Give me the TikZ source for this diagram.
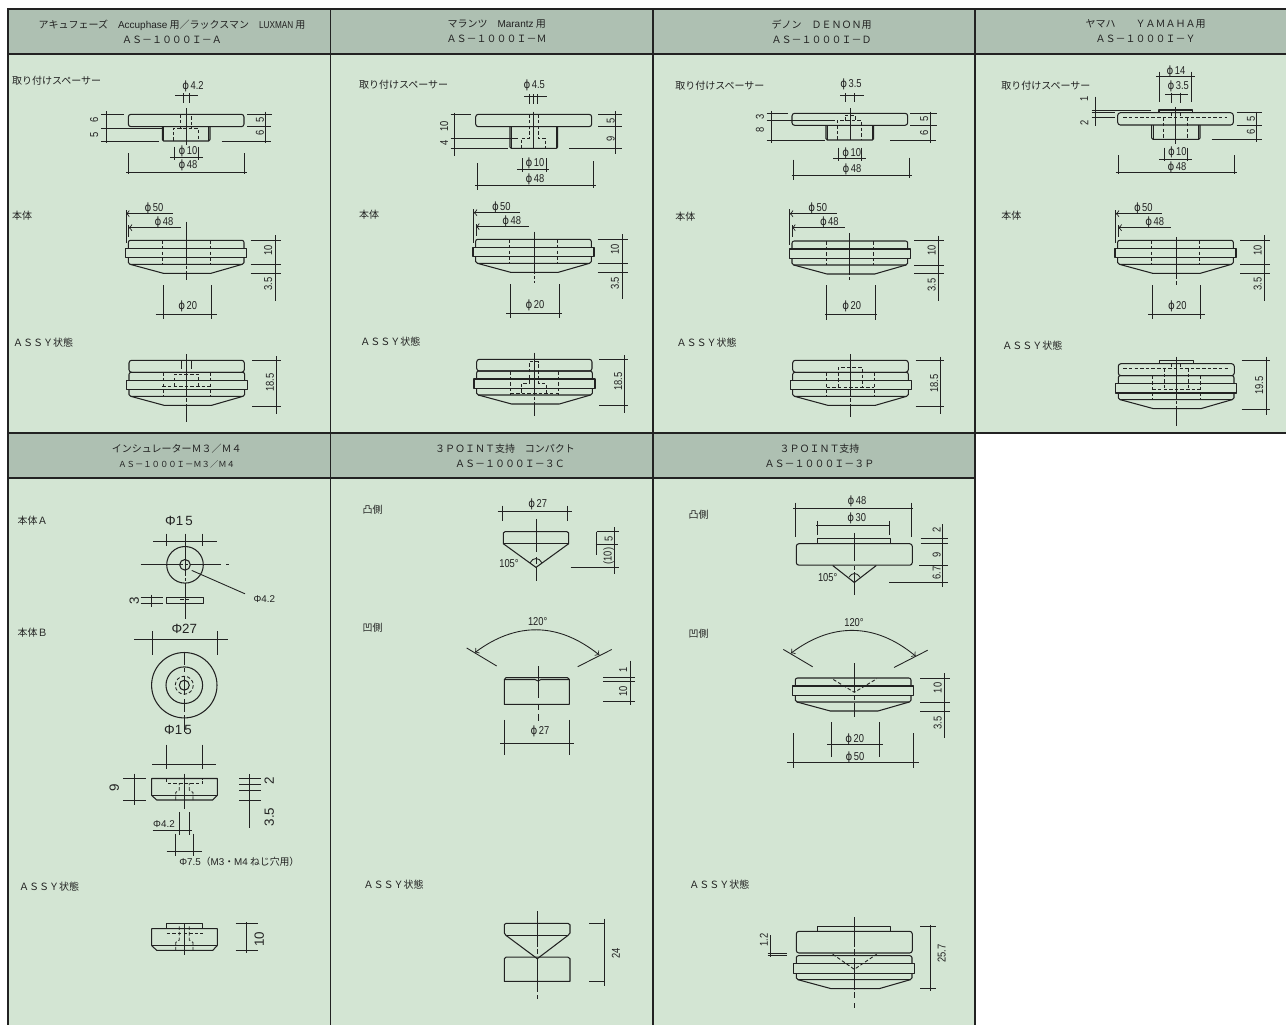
\documentclass[tikz,border=0pt]{standalone}
\usepackage{fontspec}
\setmainfont{Noto Sans CJK JP}
\newfontfamily\dimfont[FakeStretch=0.82]{Liberation Sans}
\newfontfamily\phifont[FakeStretch=0.9]{DejaVu Sans}
\newfontfamily\openfont{Liberation Sans}
\definecolor{headfill}{HTML}{AEC0B2}
\definecolor{bodyfill}{HTML}{D3E5D3}
\definecolor{ink}{HTML}{222222}
\newcommand{\phid}{{\phifont ϕ}\hspace{0.8pt}}
\tikzset{
  frame/.style={draw=ink, line width=0.9pt},
  part/.style={draw=ink, line width=0.6pt, line join=round},
  dimline/.style={draw=ink, line width=0.5pt},
  hid/.style={draw=ink, line width=0.5pt, dash pattern=on 2pt off 1.2pt},
  centre/.style={draw=ink, line width=0.5pt, dash pattern=on 24pt off 1pt on 2pt off 1pt},
  headtext/.style={align=center, text=ink, inner sep=0pt, font=\fontsize{5.69}{8.5}\selectfont},
  tagtext/.style={anchor=west, text=ink, inner sep=0pt, font=\fontsize{5.69}{7}\selectfont},
  dimtext/.style={text=ink, inner sep=0pt, font=\dimfont\fontsize{6.5}{7}\selectfont},
  dimup/.style={dimtext, rotate=90},
  bigtext/.style={text=ink, inner sep=0pt, font=\openfont\fontsize{7.6}{9}\selectfont},
  bigup/.style={bigtext, rotate=90},
  smalltext/.style={text=ink, inner sep=0pt, font=\fontsize{5.6}{7}\selectfont}
}
% body with flange, moved by (#1,#2) from the first column
\newcommand{\bodyshape}[2]{
  \begin{scope}[shift={(#1,#2)}]
    \draw[part, rounded corners=1.2pt] (128.3,248.3) -- (128.3,240.3) -- (244,240.3) -- (244,248.3);
    \draw[part] (125.7,248.3) rectangle (246.7,257.7);
    \draw[part] (128.3,257.7) -- (128.3,262.5) -- (130,264.3) -- (242.3,264.3) -- (244,262.5) -- (244,257.7);
    \draw[part] (130,264.3) -- (163.3,273.3) -- (211,273.3) -- (242.3,264.3);
  \end{scope}
}
\newcommand{\bodyholes}[2]{
  \draw[hid, shift={(#1,#2)}] (162.3,240.3) -- (162.3,264.3) (210,240.3) -- (210,264.3);
}
\begin{document}
\begin{tikzpicture}[x=0.02cm, y=-0.02cm]
  \useasboundingbox (0,0) rectangle (1286,1025);
  % Panels and headers
  \fill[bodyfill] (8,54) rectangle (1286,433);
  \fill[bodyfill] (8,478) rectangle (975,1025);
  \fill[headfill] (8,9) rectangle (1286,54);
  \fill[headfill] (8,434) rectangle (975,478);
  \draw[frame] (8,1025) -- (8,9) -- (1286,9);
  \draw[frame] (8,54) -- (1286,54);
  \draw[frame] (8,433) -- (1286,433);
  \draw[frame] (8,478) -- (975,478);
  \draw[frame] (330.5,9) -- (330.5,1025);
  \draw[frame] (653,9) -- (653,1025);
  \draw[frame] (975,9) -- (975,1025);

  \node[headtext] (headA) at (172,31.5) {アキュフェーズ　{\openfont Accuphase} 用／ラックスマン　{\dimfont LUXMAN} 用\\ＡＳ－１０００Ｉ－Ａ};
  \node[headtext] (headM) at (496.7,31.5) {マランツ　{\openfont Marantz} 用\\ＡＳ－１０００Ｉ－Ｍ};
  \node[headtext] (headD) at (821.7,31.5) {デノン　ＤＥＮＯＮ用\\ＡＳ－１０００Ｉ－Ｄ};
  \node[headtext] (headY) at (1145.7,31.5) {ヤマハ　　ＹＡＭＡＨＡ用\\ＡＳ－１０００Ｉ－Ｙ};
  \node[headtext] (headIns) at (176.7,456) {インシュレーターＭ３／Ｍ４\\[-0.3pt]{\fontsize{4.74}{8.5}\selectfont ＡＳ－１０００Ｉ－Ｍ３／Ｍ４}};
  \node[headtext] (headC) at (505,456) {３ＰＯＩＮＴ支持　コンパクト\\　ＡＳ－１０００Ｉ－３Ｃ};
  \node[headtext] (headP) at (819.5,456) {３ＰＯＩＮＴ支持\\ＡＳ－１０００Ｉ－３Ｐ};

  % Accuphase / Luxman: spacer
  \node[tagtext] (tagA1) at (11.7,80.7) {取り付けスペーサー};
  \draw[part, rounded corners=1.5pt] (128.3,114.3) rectangle (244,126.7);
  \draw[part] (162.3,126.7) -- (162.3,139.5) -- (163.5,141) -- (208.8,141) -- (210,139.5) -- (210,126.7);
  \draw[part] (163.8,126.7) -- (163.8,141) (208.5,126.7) -- (208.5,141);
  \draw[hid] (180.7,114.3) rectangle (191.7,128.3);
  \draw[hid] (173.3,141) -- (173.3,128.3) -- (198.3,128.3) -- (198.3,141);
  \draw[centre] (186,108) -- (186,145);
  \node[dimtext] (dA1) at (193,86) {\phid 4.2};
  \draw[dimline] (175,95.7) -- (197.7,95.7) (183.3,93) -- (183.3,103) (189.3,93) -- (189.3,103);
  \draw[dimline] (106,111) -- (106,142.7) (101,114.3) -- (124,114.3) (101,128.3) -- (162,128.3) (101,141) -- (159,141);
  \node[dimup] (dA2) at (94.3,120) {6};
  \node[dimup] (dA3) at (94.3,135) {5};
  \draw[dimline] (265.7,111.7) -- (265.7,143.3) (247,114.3) -- (272,114.3) (247,126.7) -- (271,126.7) (221.7,141) -- (271,141);
  \node[dimup] (dA4) at (260,120) {5};
  \node[dimup] (dA5) at (260,133) {6};
  \node[dimtext] (dA6) at (188,151) {\phid 10};
  \draw[dimline] (170,157.3) -- (203,157.3) (174.3,146.7) -- (174.3,160) (198.3,146.7) -- (198.3,160);
  \node[dimtext] (dA7) at (188,165) {\phid 48};
  \draw[dimline] (126,172.7) -- (246.7,172.7) (128.3,153) -- (128.3,174.3) (244.3,153) -- (244.3,174.3);

  % Accuphase / Luxman: body
  \node[tagtext] (tagA2) at (11.7,215.3) {本体};
  \bodyshape{0}{0}
  \bodyholes{0}{0}
  \draw[centre] (186,221.7) -- (186,280);
  \node[dimtext] (dA8) at (154,208.3) {\phid 50};
  \draw[dimline, <-] (126,213.7) -- (172.7,213.7);
  \draw[dimline] (126,210) -- (126,243);
  \node[dimtext] (dA9) at (164,222.3) {\phid 48};
  \draw[dimline, <-] (128.7,227.7) -- (180.7,227.7);
  \draw[dimline] (128.7,225) -- (128.7,236.7);
  \draw[dimline] (275,235) -- (275,300.7) (250.7,240.3) -- (280.7,240.3) (250.7,264.3) -- (280.7,264.3) (250.7,273.3) -- (280.7,273.3);
  \node[dimup] (dA10) at (268.3,250) {10};
  \node[dimup] (dA11) at (268.3,284) {3.5};
  \node[dimtext] (dA12) at (187.7,306) {\phid 20};
  \draw[dimline] (155.7,314) -- (217.3,314) (163.3,285) -- (163.3,319.3) (211,285) -- (211,319.3);

  % Accuphase / Luxman: assembled
  \node[tagtext] (tagA3) at (12.7,342.7) {ＡＳＳＹ状態};
  \draw[part, rounded corners=1.5pt] (129,360.3) rectangle (244.3,372.3);
  \bodyshape{0.7}{132}
  \bodyholes{0.7}{132}
  \draw[hid] (162.3,386.7) -- (210,386.7);
  \draw[hid] (174.3,386.7) -- (174.3,374.3) -- (198.3,374.3) -- (198.3,386.7);
  \draw[part] (181.7,360.3) -- (181.7,369) (191.7,360.3) -- (191.7,369);
  \draw[centre] (186.7,354.3) -- (186.7,422.3);
  \draw[dimline] (276,356) -- (276,414) (252.3,360.3) -- (280.7,360.3) (252.3,406) -- (280.7,406);
  \node[dimup] (dA13) at (270,382.7) {18.5};

  % Marantz: spacer
  \node[tagtext] (tagM1) at (358.7,84.3) {取り付けスペーサー};
  \draw[part, rounded corners=1.5pt] (475.7,114.3) rectangle (591.7,126.7);
  \draw[part] (510,126.7) -- (510,147) -- (511.2,148.3) -- (556.5,148.3) -- (557.7,147) -- (557.7,126.7);
  \draw[part] (511.5,126.7) -- (511.5,148.3) (556.2,126.7) -- (556.2,148.3);
  \draw[hid] (529.3,114.3) -- (529.3,138.3) -- (521,138.3) -- (521,148.3) (538.3,114.3) -- (538.3,138.3) -- (545.7,138.3) -- (545.7,148.3) (529.3,114.3) -- (538.3,114.3);
  \draw[centre] (533.3,111.7) -- (533.3,148.3);
  \node[dimtext] (dM1) at (534.3,85.3) {\phid 4.5};
  \draw[dimline] (524.3,96) -- (546.7,96) (529.3,94.3) -- (529.3,104.3) (533.3,94.3) -- (533.3,104.3) (537.3,94.3) -- (537.3,104.3);
  \draw[dimline] (454.3,112.7) -- (454.3,155.7) (450.7,114.3) -- (470.7,114.3) (450.7,138.3) -- (518.3,138.3) (450.7,148.3) -- (508.3,148.3);
  \node[dimup] (dM2) at (444.3,126.7) {10};
  \node[dimup] (dM3) at (444.3,142.7) {4};
  \draw[dimline] (615.7,111) -- (615.7,154.3) (598.3,114.3) -- (621.7,114.3) (598.3,126.7) -- (621.7,126.7) (569.3,148.3) -- (621.7,148.3);
  \node[dimup] (dM4) at (610.7,120.7) {5};
  \node[dimup] (dM5) at (610.7,139) {9};
  \node[dimtext] (dM6) at (535,163.3) {\phid 10};
  \draw[dimline] (517.3,169) -- (549,169) (522,158.3) -- (522,171.7) (546,158.3) -- (546,171.7);
  \node[dimtext] (dM7) at (535,179.3) {\phid 48};
  \draw[dimline] (475,185) -- (595.7,185) (477.7,163.3) -- (477.7,190) (593.3,161) -- (593.3,187.5);

  % Marantz: body
  \node[tagtext] (tagM2) at (358.7,214.7) {本体};
  \bodyshape{347.3}{-1}
  \bodyholes{347.3}{-1}
  \draw[centre] (534,231.7) -- (534,283.3);
  \node[dimtext] (dM8) at (501.3,207) {\phid 50};
  \draw[dimline, <-] (473.7,212.7) -- (520,212.7);
  \draw[dimline] (473.7,209.3) -- (473.7,242.7);
  \node[dimtext] (dM9) at (511.7,221.3) {\phid 48};
  \draw[dimline, <-] (476,226.7) -- (529.3,226.7);
  \draw[dimline] (476,224) -- (476,236);
  \draw[dimline] (622.3,234.3) -- (622.3,299.3) (597.7,239.3) -- (628.3,239.3) (597.7,263.3) -- (628.3,263.3) (597.7,272.3) -- (628.3,272.3);
  \node[dimup] (dM10) at (615,249) {10};
  \node[dimup] (dM11) at (615,283.3) {3.5};
  \node[dimtext] (dM12) at (535,305) {\phid 20};
  \draw[dimline] (506,313.3) -- (562.3,313.3) (510.3,284) -- (510.3,318.3) (559,284) -- (559,318.3);

  % Marantz: assembled
  \node[tagtext] (tagM3) at (360,341.7) {ＡＳＳＹ状態};
  \draw[part, rounded corners=1.5pt] (476.7,359.3) rectangle (592,371);
  \bodyshape{348.3}{130.7}
  \bodyholes{348.3}{130.7}
  \draw[hid] (510.6,393) -- (558.3,393);
  \draw[hid] (521.7,393) -- (521.7,383.3) -- (529.3,383.3) -- (529.3,361.7) -- (538.3,361.7) -- (538.3,383.3) -- (546,383.3) -- (546,393);
  \draw[centre] (534,352.7) -- (534,415.7);
  \draw[dimline] (624,355) -- (624,413.3) (599.3,359.3) -- (628.3,359.3) (599.3,405.7) -- (628.3,405.7);
  \node[dimup] (dM13) at (618.3,381.7) {18.5};

  % Denon: spacer
  \node[tagtext] (tagD1) at (675,86) {取り付けスペーサー};
  \draw[part, rounded corners=1.5pt] (792,113.3) rectangle (907.7,125.3);
  \draw[part] (826,125.3) -- (826,138.7) -- (827.2,140) -- (872.5,140) -- (873.7,138.7) -- (873.7,125.3);
  \draw[part] (827.5,125.3) -- (827.5,140) (872.2,125.3) -- (872.2,140);
  \draw[hid] (845,120.7) -- (845,115) -- (855,115) -- (855,120.7);
  \draw[hid] (837.3,140) -- (837.3,120.7) -- (861.7,120.7) -- (861.7,140);
  \draw[centre] (850,108.3) -- (850,140);
  \node[dimtext] (dD1) at (851,84.3) {\phid 3.5};
  \draw[dimline] (840.3,95) -- (864,95) (845.7,93.3) -- (845.7,101.7) (854,93.3) -- (854,101.7);
  \draw[dimline] (771,110.7) -- (771,142.7) (766.7,113.3) -- (787.7,113.3) (766.7,120.7) -- (835,120.7) (766.7,140) -- (825,140);
  \node[dimup] (dD2) at (760,117.3) {3};
  \node[dimup] (dD3) at (760,130) {8};
  \draw[dimline] (930,111.7) -- (930,142.7) (910,113.3) -- (936.7,113.3) (910,125.3) -- (936.7,125.3) (890,140) -- (935.7,140);
  \node[dimup] (dD4) at (924.3,119.3) {5};
  \node[dimup] (dD5) at (924.3,133.3) {6};
  \node[dimtext] (dD6) at (851.7,153.3) {\phid 10};
  \draw[dimline] (833.3,158.7) -- (865.7,158.7) (838,147.7) -- (838,161) (861.7,147.7) -- (861.7,161);
  \node[dimtext] (dD7) at (852,169) {\phid 48};
  \draw[dimline] (791.7,175.7) -- (911.7,175.7) (793.3,159.5) -- (793.3,179.5) (909.3,157.5) -- (909.3,177.5);

  % Denon: body
  \node[tagtext] (tagD2) at (675,216.7) {本体};
  \bodyshape{663.7}{0.7}
  \bodyholes{663.7}{0.7}
  \draw[centre] (849.7,233) -- (849.7,280);
  \node[dimtext] (dD8) at (817.7,208.3) {\phid 50};
  \draw[dimline, <-] (789.7,213.7) -- (836.7,213.7);
  \draw[dimline] (789.7,209) -- (789.7,245);
  \node[dimtext] (dD9) at (829.3,222.3) {\phid 48};
  \draw[dimline, <-] (792,227.7) -- (845,227.7);
  \draw[dimline] (792,225) -- (792,236.7);
  \draw[dimline] (938.7,235.7) -- (938.7,301) (914.3,240.7) -- (944.3,240.7) (914.3,265) -- (944.3,265) (914.3,273.5) -- (944.3,273.5);
  \node[dimup] (dD10) at (931.7,250) {10};
  \node[dimup] (dD11) at (931.7,285) {3.5};
  \node[dimtext] (dD12) at (851.7,306) {\phid 20};
  \draw[dimline] (825,314.3) -- (877.3,314.3) (826.7,285) -- (826.7,319.7) (875,285) -- (875,319.7);

  % Denon: assembled
  \node[tagtext] (tagD3) at (676.3,342.7) {ＡＳＳＹ状態};
  \draw[part, rounded corners=1.5pt] (792.7,360.3) rectangle (908.3,372.3);
  \bodyshape{664.4}{132}
  \bodyholes{664.4}{132}
  \draw[hid] (826.7,387.3) -- (874.4,387.3);
  \draw[hid] (838.3,387.3) -- (838.3,367.7) -- (862.3,367.7) -- (862.3,387.3);
  \draw[centre] (850.3,354.3) -- (850.3,416.7);
  \draw[dimline] (940,356.7) -- (940,414.3) (915.7,360.3) -- (944.3,360.3) (915.7,406.3) -- (944.3,406.3);
  \node[dimup] (dD13) at (934.3,383.3) {18.5};

  % Yamaha: spacer
  \node[tagtext] (tagY1) at (1001,85.3) {取り付けスペーサー};
  \draw[part, rounded corners=1.5pt] (1117.7,112.7) rectangle (1233.3,125);
  \draw[part] (1159,112.7) -- (1159,110) -- (1192.3,110) -- (1192.3,112.7);
  \draw[part] (1151.7,125) -- (1151.7,138) -- (1153,139.3) -- (1198.8,139.3) -- (1200,138) -- (1200,125);
  \draw[part] (1153.2,125) -- (1153.2,139.3) (1198.5,125) -- (1198.5,139.3);
  \draw[hid] (1123.3,117.3) -- (1227.3,117.3);
  \draw[hid] (1163.3,117.3) -- (1163.3,139.3) (1187.3,117.3) -- (1187.3,139.3);
  \draw[hid] (1171.7,112.7) -- (1171.7,117.3) (1180,112.7) -- (1180,117.3);
  \draw[centre] (1175,107.3) -- (1175,144);
  \node[dimtext] (dY1) at (1176,71.3) {\phid 14};
  \draw[dimline] (1156,76) -- (1195,76) (1159,71.7) -- (1159,101.7) (1191.7,71.7) -- (1191.7,101.7);
  \node[dimtext] (dY2) at (1178.3,86.7) {\phid 3.5};
  \draw[dimline] (1165,94.3) -- (1187.7,94.3) (1171.7,92.7) -- (1171.7,102.7) (1180,92.7) -- (1180,102.7);
  \draw[dimline] (1095.7,96.7) -- (1095.7,126) (1091.7,110) -- (1150.7,110) (1091.7,112.7) -- (1115,112.7) (1091.7,117.3) -- (1115,117.3);
  \node[dimup] (dY3) at (1084.3,99) {1};
  \node[dimup] (dY4) at (1084.3,123.3) {2};
  \draw[dimline] (1256,111.7) -- (1256,141.7) (1236.7,112.7) -- (1261.7,112.7) (1236.7,125) -- (1261.7,125) (1211.7,139.3) -- (1261.7,139.3);
  \node[dimup] (dY5) at (1251,119.3) {5};
  \node[dimup] (dY6) at (1251,132.3) {6};
  \node[dimtext] (dY7) at (1177.3,152.3) {\phid 10};
  \draw[dimline] (1159,159.3) -- (1192.3,159.3) (1164,147.7) -- (1164,160.7) (1187.7,147.7) -- (1187.7,160.7);
  \node[dimtext] (dY8) at (1177,167.3) {\phid 48};
  \draw[dimline] (1115.7,172.7) -- (1236.7,172.7) (1118.3,155) -- (1118.3,174.3) (1234,155) -- (1234,174.3);

  % Yamaha: body
  \node[tagtext] (tagY2) at (1001,215.3) {本体};
  \bodyshape{989.3}{0}
  \bodyholes{989.3}{0}
  \draw[centre] (1176.7,237.3) -- (1176.7,285.7);
  \node[dimtext] (dY9) at (1143.3,208.3) {\phid 50};
  \draw[dimline, <-] (1115.7,213.7) -- (1161.7,213.7);
  \draw[dimline] (1115.7,210) -- (1115.7,243);
  \node[dimtext] (dY10) at (1154.7,222.3) {\phid 48};
  \draw[dimline, <-] (1118.3,227.7) -- (1170.7,227.7);
  \draw[dimline] (1118.3,225) -- (1118.3,236.7);
  \draw[dimline] (1264.3,235) -- (1264.3,300.7) (1240,240.3) -- (1270,240.3) (1240,264.3) -- (1270,264.3) (1240,273.3) -- (1270,273.3);
  \node[dimup] (dY11) at (1257.7,250) {10};
  \node[dimup] (dY12) at (1257.7,284) {3.5};
  \node[dimtext] (dY13) at (1177.3,306) {\phid 20};
  \draw[dimline] (1148.3,314) -- (1205,314) (1152.7,285) -- (1152.7,319.3) (1200.7,285) -- (1200.7,319.3);

  % Yamaha: assembled
  \node[tagtext] (tagY3) at (1002,345.7) {ＡＳＳＹ状態};
  \draw[part] (1159.3,363.7) -- (1159.3,360.3) -- (1193.3,360.3) -- (1193.3,363.7);
  \draw[part, rounded corners=1.5pt] (1118.3,363.7) rectangle (1234.3,375.7);
  \bodyshape{990}{135.3}
  \bodyholes{990}{135.3}
  \draw[hid] (1123.3,368) -- (1228.3,368);
  \draw[hid] (1152.3,389.3) -- (1200,389.3);
  \draw[hid] (1164.3,368) -- (1164.3,387.7) (1188.3,368) -- (1188.3,387.7);
  \draw[hid] (1171.7,363.7) -- (1171.7,368) (1180,363.7) -- (1180,368);
  \draw[centre] (1176.3,356.7) -- (1176.3,425.7);
  \draw[dimline] (1266,356.7) -- (1266,415) (1241.7,360.3) -- (1270,360.3) (1241.7,409.3) -- (1270,409.3);
  \node[dimup] (dY14) at (1259.3,385.7) {19.5};

  % Insulator: part A
  \node[tagtext] (tagI1) at (17.3,520.8) {本体Ａ};
  \node[bigtext] (dI1) at (179,520.8) {Φ1\,5};
  \draw[dimline] (153.3,541) -- (216.7,541) (166.7,533.6) -- (166.7,546) (202.7,533.6) -- (202.7,546);
  \draw[part] (185,564.8) circle[radius=18.3];
  \draw[part] (185,564.8) circle[radius=5.3];
  \draw[centre] (185,533.6) -- (185,619.4);
  \draw[centre] (140.7,564.8) -- (220.7,564.8);
  \draw[dimline] (226,564.8) -- (229.3,564.8);
  \draw[dimline] (191.7,570.4) -- (245,593.8);
  \node[smalltext, font=\openfont\fontsize{5.6}{7}\selectfont] (dI2) at (264.3,599) {Φ4.2};
  \draw[part] (166.7,597.2) rectangle (203.3,603.5);
  \draw[hid] (180,599) -- (190.7,599);
  \draw[dimline] (151.7,594.5) -- (151.7,606.6) (140.7,597.2) -- (162.7,597.2) (140.7,603.5) -- (162.7,603.5);
  \node[bigup] (dI3) at (134.3,600.5) {3};

  % Insulator: part B
  \node[tagtext] (tagI2) at (17.3,632.5) {本体Ｂ};
  \node[bigtext] (dI4) at (184.3,628.4) {Φ27};
  \draw[dimline] (134,639.7) -- (227.7,639.7) (152,631.4) -- (152,655) (217,631.4) -- (217,655);
  \draw[part] (184.3,685.2) circle[radius=32.7];
  \draw[part] (184.3,685.2) circle[radius=18.3];
  \draw[hid] (184.3,685.2) circle[radius=9];
  \draw[part] (184.3,685.2) circle[radius=5];
  \draw[dimline] (184.3,652) -- (184.3,665) (184.3,668) -- (184.3,672) (184.3,676) -- (184.3,695) (184.3,699) -- (184.3,712) (184.3,715) -- (184.3,732);
  \node[bigtext] (dI5) at (178,730.3) {Φ1\,5};
  \draw[dimline] (152.3,764.2) -- (215.7,764.2) (166.7,744.6) -- (166.7,769) (202.3,744.6) -- (202.3,769);
  \draw[part] (151.7,778.5) -- (217.3,778.5) -- (217.3,795.4) -- (212.7,800) -- (156.7,800) -- (151.7,795.4) -- cycle;
  \draw[part] (151.7,795.4) -- (217.3,795.4);
  \draw[hid] (166.7,778.5) -- (166.7,783) -- (202.7,783) -- (202.7,778.5);
  \draw[hid] (175.7,800) -- (175.7,792.5) -- (179.3,790) -- (179.3,783) (193,800) -- (193,792.5) -- (189.3,790) -- (189.3,783);
  \draw[centre] (184.3,773.6) -- (184.3,809);
  \draw[dimline] (134,773.6) -- (134,804.5) (123.3,778.5) -- (145.7,778.5) (123.3,800) -- (145.7,800);
  \node[bigup] (dI6) at (114.3,788) {9};
  \draw[dimline] (249.3,774.4) -- (249.3,828) (239,778.5) -- (261,778.5) (239,784) -- (261,784) (239,790.5) -- (261,790.5) (239,800) -- (261,800);
  \node[bigup] (dI7) at (269.3,780.4) {2};
  \node[bigup] (dI8) at (269.3,816.9) {3.5};
  \node[smalltext, font=\openfont\fontsize{5.6}{7}\selectfont] (dI9) at (164,823.6) {Φ4.2};
  \draw[dimline] (152.7,830.8) -- (191.7,830.8) (179.3,812.4) -- (179.3,834.5) (189.3,812.4) -- (189.3,834.5);
  \draw[dimline] (166.7,851.5) -- (201.7,851.5) (175.7,833.8) -- (175.7,856.4) (193.3,833.8) -- (193.3,856.4);
  \node[smalltext, anchor=west] (dI10) at (179,861.3) {{\openfont Φ7.5}（{\openfont M3}・{\openfont M4} ねじ穴用）};

  % Insulator: assembled
  \node[tagtext] (tagI3) at (18.7,886.5) {ＡＳＳＹ状態};
  \draw[part] (151.7,928.6) -- (217.3,928.6) -- (217.3,945.5) -- (212.7,950.4) -- (156.7,950.4) -- (151.7,945.5) -- cycle;
  \draw[part] (151.7,945.5) -- (217.3,945.5);
  \draw[part] (166.7,928.6) -- (166.7,923.9) -- (202.7,923.9) -- (202.7,928.6);
  \draw[hid] (166.7,933.5) -- (202.7,933.5);
  \draw[hid] (175.7,950.4) -- (175.7,942.5) -- (179.3,940) -- (179.3,925) (193,950.4) -- (193,942.5) -- (189.3,940) -- (189.3,925);
  \draw[centre] (184.3,923.3) -- (184.3,955);
  \draw[dimline] (246.7,922.2) -- (246.7,953.4) (235.7,923.9) -- (257.7,923.9) (235.7,950.4) -- (257.7,950.4);
  \node[bigup] (dI11) at (259.3,939) {10};

  % 3 point compact: convex side
  \node[tagtext] (tagC1) at (362.3,509.5) {凸側};
  \node[dimtext] (dC1) at (537.7,504.2) {\phid 27};
  \draw[dimline] (497.7,511.4) -- (572.3,511.4) (502.3,505.7) -- (502.3,520.8) (567.7,505.7) -- (567.7,520.8);
  \draw[part] (503.3,543.7) -- (503.3,533) -- (505,531.7) -- (567,531.7) -- (568.7,533) -- (568.7,543.7) -- (536,567.4) -- cycle;
  \draw[part] (503.3,543.7) -- (568.7,543.7);
  \draw[dimline] (536,518.9) -- (536,551.6) (536,557) -- (536,564) (536,567.4) -- (536,581);
  \draw[dimline] (530,562.9) .. controls (533,557) and (539,557) .. (542,562.9);
  \node[dimtext] (dC2) at (509,564) {105°};
  \draw[dimline] (614.3,527.2) -- (614.3,574.2) (596.7,531.7) -- (619.3,531.7) (595.7,544.5) -- (618,544.5) (570.7,567.7) -- (619.3,567.7) (596.7,531.7) -- (596.7,555);
  \node[dimup] (dC3) at (608.7,538.5) {5};
  \node[dimup] (dC4) at (608.7,556.1) {(10)};

  % 3 point compact: concave side
  \node[tagtext] (tagC2) at (362.3,627.6) {凹側};
  \node[dimtext] (dC5) at (537.7,622) {120°};
  \draw[dimline, <->] (475,652.5) .. controls (516,622) and (558,622) .. (599.3,655);
  \draw[dimline] (466.7,648) -- (496.7,666) (611.7,649.5) -- (577.7,666.7);
  \draw[part] (504.3,679.5) -- (506,677.7) -- (567.5,677.7) -- (569.3,679.5) -- (569.3,704.4) -- (504.3,704.4) -- cycle;
  \draw[part] (504.3,679.5) -- (535,679.5) -- (538,681) -- (541,679.5) -- (569.3,679.5);
  \draw[dimline] (538,666.4) -- (538,698) (538,704.4) -- (538,709.5) (538,714) -- (538,721);
  \draw[dimline] (630,660.7) -- (630,705) (603.3,677.7) -- (635.3,677.7) (603.3,681) -- (635.3,681) (603.3,701.5) -- (635.3,701.5);
  \node[dimup] (dC6) at (623.3,670) {1};
  \node[dimup] (dC7) at (623.3,691.6) {10};
  \node[dimtext] (dC8) at (540,731) {\phid 27};
  \draw[dimline] (500,743.9) -- (573.7,743.9) (504,719.8) -- (504,754.8) (569.3,719.8) -- (569.3,754.8);

  % 3 point compact: assembled
  \node[tagtext] (tagC3) at (363.3,884.6) {ＡＳＳＹ状態};
  \draw[part] (504.3,933) -- (504.3,924.8) -- (506,923.3) -- (568,923.3) -- (570,924.8) -- (570,933) -- (568,935.4) -- (537.3,958.7) -- (506,935.4) -- cycle;
  \draw[part] (506,935.4) -- (568,935.4);
  \draw[part] (504.3,958.7) -- (506,957.2) -- (568,957.2) -- (570,958.7) -- (570,981.3) -- (504.3,981.3) -- cycle;
  \draw[dimline] (537.3,911) -- (537.3,946.7) (537.3,948.5) -- (537.3,954) (537.3,958.7) -- (537.3,991.8) (537.3,995) -- (537.3,999);
  \draw[dimline] (604,918.5) -- (604,986.2) (589.3,923.3) -- (605.3,923.3) (589.3,981.3) -- (605.3,981.3);
  \node[dimup] (dC9) at (616,953.4) {24};

  % 3 point: convex side
  \node[tagtext] (tagP1) at (688.3,514.4) {凸側};
  \node[dimtext] (dP1) at (857,501.2) {\phid 48};
  \draw[dimline] (793.3,508.4) -- (913.3,508.4) (795.3,502.7) -- (795.3,536.6) (911,502.7) -- (911,536.6);
  \node[dimtext] (dP2) at (856.7,518.1) {\phid 30};
  \draw[dimline] (816,525.7) -- (890,525.7) (817,520.8) -- (817,534.7) (889.3,520.8) -- (889.3,534.7);
  \draw[part] (817.7,543.7) -- (817.7,538.8) -- (890.3,538.8) -- (890.3,543.7);
  \draw[part, rounded corners=1.5pt] (796.3,543.7) rectangle (912.3,565.2);
  \draw[part] (832.7,565.5) -- (854.3,582.5) -- (876.3,565.5);
  \draw[dimline] (854.3,532.8) -- (854.3,561) (854.3,566) -- (854.3,570) (854.3,572) -- (854.3,594.9);
  \draw[dimline] (849,577.2) .. controls (851.5,572.3) and (857.5,572.3) .. (860,577.2);
  \node[dimtext] (dP3) at (827.7,578) {105°};
  \draw[dimline] (942.7,524.2) -- (942.7,586.6) (920.7,538.8) -- (948.3,538.8) (920.7,543.7) -- (948.3,543.7) (919.3,565.2) -- (948,565.2) (889,582.5) -- (948.3,582.5);
  \node[dimup] (dP4) at (936.7,529.8) {2};
  \node[dimup] (dP5) at (936.7,554.6) {9};
  \node[dimup] (dP6) at (936.7,573) {6.7};

  % 3 point: concave side
  \node[tagtext] (tagP2) at (688.3,633.3) {凹側};
  \node[dimtext] (dP7) at (854,623) {120°};
  \draw[dimline, <->] (791,653.2) .. controls (832,622.5) and (875,622.5) .. (915.7,656.2);
  \draw[dimline] (783.3,649.4) -- (812.7,666.8) (927.7,650.2) -- (894,667.5);
  \bodyshape{667}{437.7}
  \draw[hid] (833.3,679.5) -- (854.3,692.3) -- (876.7,678.8);
  \draw[dimline] (854.3,663) -- (854.3,691.6) (854.3,695) -- (854.3,700) (854.3,703) -- (854.3,717);
  \draw[dimline] (944.3,673.2) -- (944.3,738.2) (920,678) -- (950.3,678) (920,702.5) -- (950.3,702.5) (920,711) -- (950.3,711);
  \node[dimup] (dP8) at (937.7,687.8) {10};
  \node[dimup] (dP9) at (937.7,722.8) {3.5};
  \node[dimtext] (dP10) at (854.7,739) {\phid 20};
  \draw[dimline] (827.3,744.6) -- (883.3,744.6) (831.3,722) -- (831.3,756.7) (879.3,722) -- (879.3,756.7);
  \node[dimtext] (dP11) at (855,757) {\phid 50};
  \draw[dimline] (787,762.7) -- (919.3,762.7) (793,733.3) -- (793,768) (913.3,733.3) -- (913.3,768);

  % 3 point: assembled
  \node[tagtext] (tagP3) at (689,884.6) {ＡＳＳＹ状態};
  \draw[part] (817.7,931.3) -- (817.7,926.3) -- (890.3,926.3) -- (890.3,931.3);
  \draw[part, rounded corners=1.5pt] (796.3,931.3) rectangle (912.3,953);
  \bodyshape{668}{715.4}
  \draw[hid] (832.7,954.2) -- (854.3,969.3) -- (876.7,954.2);
  \draw[dimline] (854.3,917.3) -- (854.3,946.7) (854.3,949) -- (854.3,955) (854.3,958) -- (854.3,990) (854.3,992) -- (854.3,998) (854.3,1003) -- (854.3,1008);
  \draw[dimline] (770,935.4) -- (770,957.2) (767.7,953) -- (787,953) (767.7,955.7) -- (787,955.7);
  \node[dimup] (dP12) at (764,940) {1.2};
  \draw[dimline] (930.7,924.8) -- (930.7,991) (920,926.3) -- (935.7,926.3) (920,988.5) -- (935.7,988.5);
  \node[dimup] (dP13) at (941.7,953.4) {25.7};
\end{tikzpicture}
\end{document}
